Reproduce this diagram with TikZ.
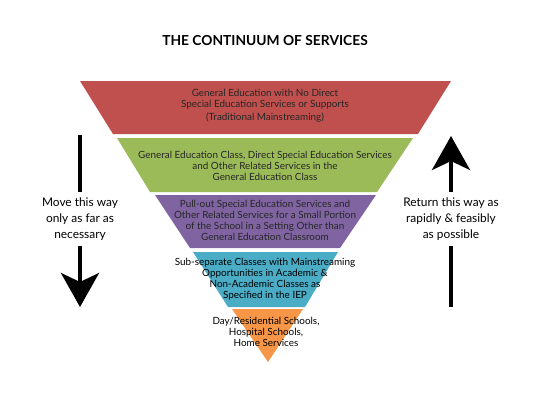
\documentclass[tikz,border=0pt]{standalone}
\usepackage{fontspec}
\setmainfont{Lato}
\usetikzlibrary{arrows.meta}
\definecolor{bandred}{HTML}{C0504D}
\definecolor{bandgreen}{HTML}{9BBB59}
\definecolor{bandpurple}{HTML}{8064A2}
\definecolor{bandblue}{HTML}{4BACC6}
\definecolor{bandorange}{HTML}{F79646}
\tikzset{
  bandtext/.style={align=center, font=\fontsize{9.9}{11}\selectfont, text=black!85, inner sep=0pt},
  sidetext/.style={align=center, font=\fontsize{11.9}{16}\selectfont, inner xsep=2pt, inner ysep=5pt},
  way/.style={line width=4pt},
  wayhead/.style={-{Stealth[length=34pt,width=38pt,inset=9pt]}, line width=4pt}
}
\begin{document}
\begin{tikzpicture}[x=1pt,y=-1pt]
	\useasboundingbox (0,0) rectangle (533,400);
	\node[font=\bfseries\fontsize{13.8}{16}\selectfont] (title) at (265,41) {THE CONTINUUM OF SERVICES};
	% the five bands
	\fill[bandred] (80,81) -- (451,81) -- (418,134) -- (113,134) -- cycle;
	\fill[bandgreen] (117,138) -- (413,138) -- (377,192) -- (150,192) -- cycle;
	\fill[bandpurple] (155,195) -- (376,195) -- (340,248) -- (190,248) -- cycle;
	\fill[bandblue] (193,252) -- (338,252) -- (305,307) -- (228,307) -- cycle;
	\fill[bandorange] (232,309) -- (303,309) -- (268,362) -- cycle;
	\node[bandtext] (general) at (265,106) {General Education with No Direct\\Special Education Services or Supports\\[2pt](Traditional Mainstreaming)};
	\node[bandtext] (genclass) at (265,166) {General Education Class, Direct Special Education Services\\and Other Related Services in the\\General Education Class};
	\node[bandtext] (pullout) at (265,220.5) {Pull-out Special Education Services and\\Other Related Services for a Small Portion\\of the School in a Setting Other than\\General Education Classroom};
	\node[bandtext, text=black] (subsep) at (265,279) {Sub-separate Classes with Mainstreaming\\Opportunities in Academic \&\\Non-Academic Classes as\\Specified in the IEP};
	\node[bandtext, text=black] (dayres) at (266,332) {Day/Residential Schools,\\Hospital Schools,\\Home Services};
	% side arrows
	\coordinate (movetop) at (80,135);
	\coordinate (movetip) at (80,307);
	\node[sidetext] (movetxt) at (80,219) {Move this way\\only as far as\\necessary};
	\draw[way] (movetop) -- (movetxt.north);
	\draw[wayhead] (movetxt.south) -- (movetip);
	\coordinate (rettip) at (451,136);
	\coordinate (retbottom) at (451,307);
	\node[sidetext] (rettxt) at (451,219) {Return this way as\\rapidly \& feasibly\\as possible};
	\draw[wayhead] (rettxt.north) -- (rettip);
	\draw[way] (retbottom) -- (rettxt.south);
\end{tikzpicture}
\end{document}
